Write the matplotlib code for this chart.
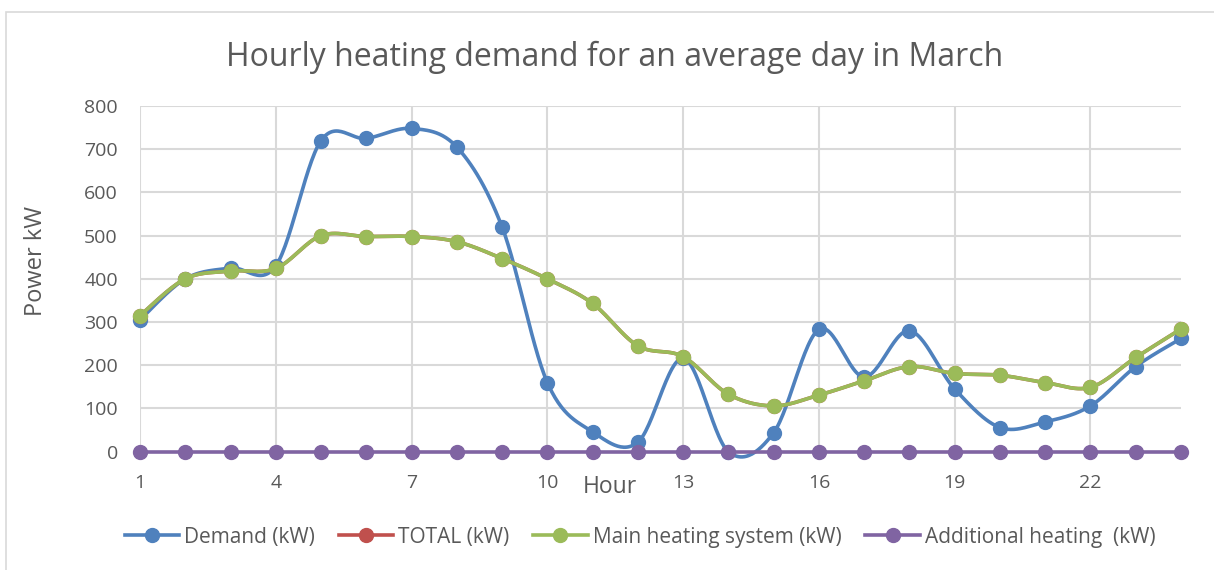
import numpy as np
import matplotlib
matplotlib.use("Agg")
import matplotlib.pyplot as plt
from matplotlib.patches import Rectangle

hours = list(range(1, 25))
demand = [305, 400, 425, 430, 720, 725, 748, 705, 520, 160, 46, 22,
          216, 0, 44, 283, 173, 280, 145, 56, 69, 106, 197, 262]
main_heating = [315, 400, 418, 424, 500, 498, 498, 486, 447, 400, 343, 245,
                220, 133, 106, 131, 164, 197, 181, 177, 160, 149, 218, 284]
additional = [0] * 24
total = [m + a for m, a in zip(main_heating, additional)]

series = [
    ("Demand (kW)", demand, "#4F81BD"),
    ("TOTAL (kW)", total, "#C0504D"),
    ("Main heating system (kW)", main_heating, "#9BBB59"),
    ("Additional heating  (kW)", additional, "#8064A2"),
]
xticks = [1, 4, 7, 10, 13, 16, 19, 22]
text_col = "#595959"
grid_col = "#D9D9D9"


def smooth(x, y, n=30):
    # bezier smoothing like the spreadsheet "smoothed line" option
    x = np.asarray(x, float)
    y = np.asarray(y, float)
    px = np.concatenate([[x[0]], x, [x[-1]]])
    py = np.concatenate([[y[0]], y, [y[-1]]])
    t = np.linspace(0, 1, n)
    xs, ys = [], []
    for i in range(len(x) - 1):
        p0 = np.array([px[i + 1], py[i + 1]])
        p3 = np.array([px[i + 2], py[i + 2]])
        c1 = p0 + (p3 - np.array([px[i], py[i]])) / 6
        c2 = p3 - (np.array([px[i + 3], py[i + 3]]) - p0) / 6
        b = (np.outer((1 - t) ** 3, p0) + np.outer(3 * (1 - t) ** 2 * t, c1)
             + np.outer(3 * (1 - t) * t ** 2, c2) + np.outer(t ** 3, p3))
        xs.append(b[:, 0])
        ys.append(b[:, 1])
    return np.concatenate(xs), np.concatenate(ys)


plt.rcParams['font.family'] = ['Open Sans', 'DejaVu Sans']

fig = plt.figure(figsize=(12.14, 5.70), dpi=100)
fig.patches.append(Rectangle((6 / 1214, -0.1), 1.2, 1.1 - 12 / 570,
                             transform=fig.transFigure, fill=False,
                             edgecolor="#D9D9D9", lw=1.2))
ax = fig.add_axes([140 / 1214, 1 - 451.7 / 570, (1181 - 140) / 1214, 345.7 / 570])

for label, vals, col in series:
    sx, sy = smooth(hours, vals)
    ax.plot(sx, sy, color=col, lw=2.6, clip_on=False, solid_capstyle="round")
    ax.plot(hours, vals, "o", color=col, ms=10, clip_on=False)

handles = [plt.Line2D([], [], color=col, lw=2.6, marker="o", ms=10)
           for _, _, col in series]
fig.legend(handles, [s[0] for s in series], loc="center", ncol=4,
           bbox_to_anchor=(640 / 1214, 1 - 537 / 570), frameon=False,
           fontsize=15, handlelength=2.6, handletextpad=0.25,
           columnspacing=1.15, labelcolor=text_col)

ax.set_xlim(1, 24)
ax.set_ylim(0, 800)
ax.set_xticks(xticks)
ax.set_yticks(range(0, 801, 100))
ax.tick_params(length=0, labelsize=14, colors=text_col, pad=16)
ax.grid(True, color=grid_col, lw=1.5)
ax.set_axisbelow(True)
for s in ax.spines.values():
    s.set_visible(False)

fig.text(615 / 1214, 1 - 57 / 570, "Hourly heating demand for an average day in March",
         ha="center", va="center", fontsize=23, color=text_col)
fig.text(610 / 1214, 1 - 487 / 570, "Hour", ha="center", va="center",
         fontsize=16.5, color=text_col)
fig.text(36 / 1214, 1 - 261 / 570, "Power kW", ha="center", va="center",
         rotation=90, fontsize=17, color=text_col)

fig.savefig("out.png", dpi=100)
